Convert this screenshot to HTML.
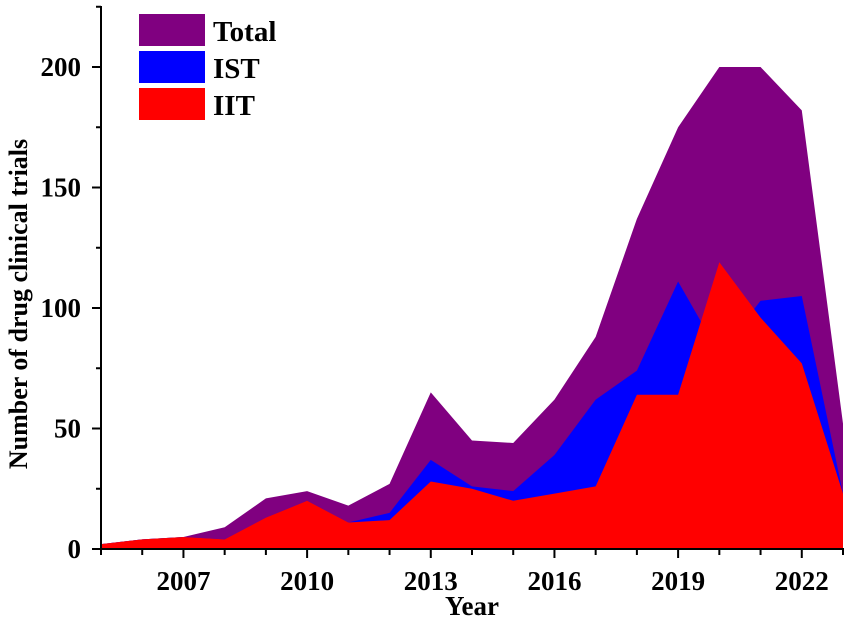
<!DOCTYPE html>
<html><head><meta charset="utf-8"><style>
html,body{margin:0;padding:0;background:#fff;}
svg{display:block;font-family:"Liberation Serif",serif;font-weight:bold;}
</style></head><body>
<svg id="chart" width="851" height="626" viewBox="0 0 851 626">
<g id="areas"></g>
<g id="axes"></g>
<g id="legend">
  <rect x="139" y="14" width="66" height="32" fill="#800080"/>
  <text x="213" y="41" font-size="29">Total</text>
  <rect x="139" y="51" width="66" height="32" fill="#0000ff"/>
  <text x="213" y="78" font-size="29">IST</text>
  <rect x="139" y="88" width="66" height="32" fill="#ff0000"/>
  <text x="213" y="115" font-size="29">IIT</text>
</g>
<text x="0" y="0" font-size="26" text-anchor="middle" transform="translate(27,304) rotate(-90)">Number of drug clinical trials</text>
<text x="472" y="615" font-size="27" text-anchor="middle">Year</text>
</svg>
<script>
const years = [2005,2006,2007,2008,2009,2010,2011,2012,2013,2014,2015,2016,2017,2018,2019,2020,2021,2022,2023];
const totalVals = [2,4,5,9,21,24,18,27,65,45,44,62,88,137,175,200,200,182,52];
const istVals = [2,4,5,4,13,20,11,15,37,26,24,39,62,74,111,81,103,105,23];
const iitVals = [2,4,5,4,13,20,11,12,28,25,20,23,26,64,64,119,96,77,23];
const yTicks = [0,50,100,150,200];
const xTickLabels = [2007,2010,2013,2016,2019,2022];

const X0=101, X1=843, Y0=549;
const xs = y => X0 + (y-2005)*(X1-X0)/(2023-2005);
const ys = v => Y0 - v*(549-67)/200;
const NS="http://www.w3.org/2000/svg";
const areas=document.getElementById('areas'), axes=document.getElementById('axes');

function area(vals,color,name){
  let d='M'+xs(years[0])+','+Y0;
  vals.forEach((v,i)=>{d+=' L'+xs(years[i])+','+ys(v);});
  d+=' L'+xs(years[years.length-1])+','+Y0+' Z';
  const p=document.createElementNS(NS,'path');
  p.setAttribute('d',d);p.setAttribute('fill',color);
  
  
  areas.appendChild(p);
}
area(totalVals,'#800080','area-total');
area(istVals,'#0000ff','area-ist');
area(iitVals,'#ff0000','area-iit');

function line(x1,y1,x2,y2,w){
  const l=document.createElementNS(NS,'line');
  l.setAttribute('x1',x1);l.setAttribute('y1',y1);l.setAttribute('x2',x2);l.setAttribute('y2',y2);
  l.setAttribute('stroke','#000');l.setAttribute('stroke-width',w||2);
  axes.appendChild(l);return l;
}
function text(x,y,s,anchor,name){
  const t=document.createElementNS(NS,'text');
  t.setAttribute('x',x);t.setAttribute('y',y);t.setAttribute('font-size','27');
  t.setAttribute('text-anchor',anchor);t.textContent=s;
  
  
  axes.appendChild(t);
}
const ya=line(X0,6,X0,Y0+1);

const xa=line(X0-1,Y0,X1+1,Y0);

for(let v=0;v<=225;v+=25){
  const major=v%50===0;
  line(X0-(major?9:5),ys(v),X0,ys(v));
}
yTicks.forEach(v=>text(X0-20,ys(v)+9,String(v),'end','y-tick-label'));
years.forEach(y=>{
  const major=xTickLabels.indexOf(y)>=0;
  line(xs(y),Y0,xs(y),Y0+(major?9:6));
});
xTickLabels.forEach(y=>text(xs(y),590,String(y),'middle','x-tick-label'));
</script>
</body></html>
